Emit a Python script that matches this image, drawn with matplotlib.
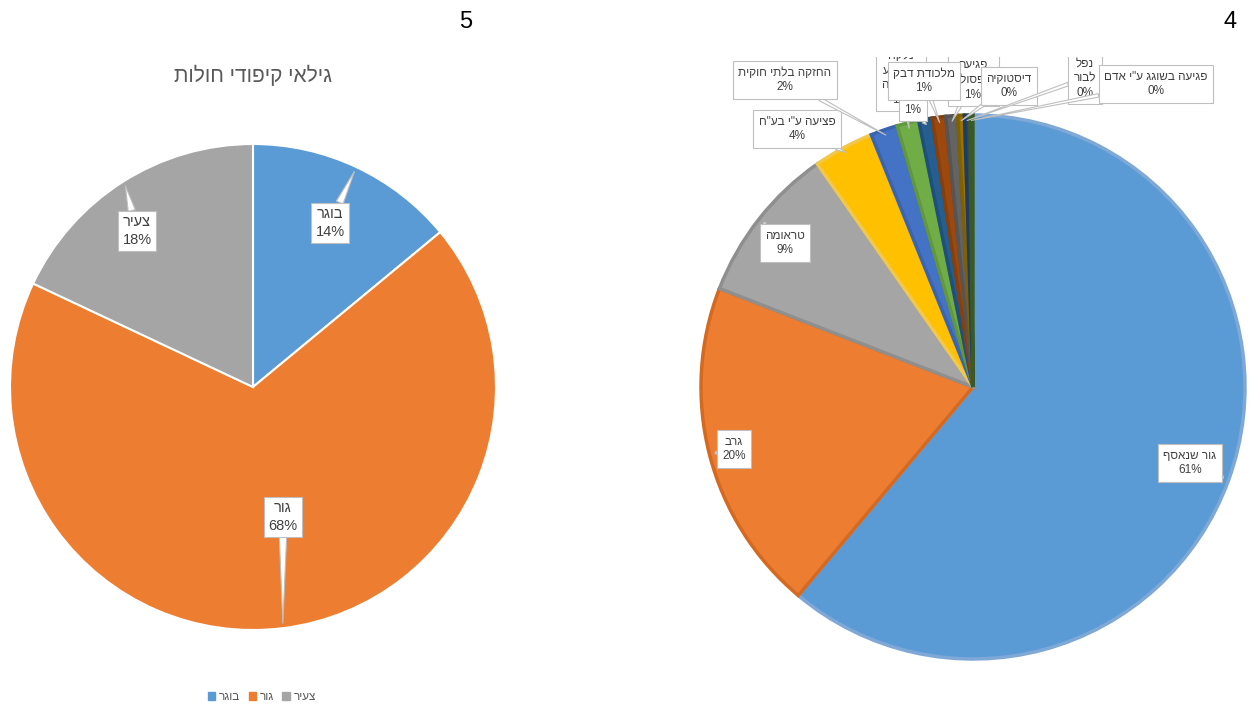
import numpy as np
import matplotlib
matplotlib.use("Agg")
import matplotlib.pyplot as plt
from matplotlib.patches import Patch

plt.rcParams['font.family'] = ['Liberation Sans', 'DejaVu Sans']

# --- data -------------------------------------------------------------
age_labels = ['בוגר', 'גור', 'צעיר']
age_values = [14, 68, 18]
age_colors = ['#5B9BD5', '#ED7D31', '#A5A5A5']

cause_labels = ['גור שנאסף', 'גרב', 'טראומה', 'פציעה ע"י בע"ח', 'החזקה בלתי חוקית',
                'נלקח\nמהטבע\nבסביבה', '', 'מלכודת דבק', 'פגיעה\nמפסולת',
                'דיסטוקיה', 'נפל\nלבור', 'פגיעה בשוגג ע"י אדם']
cause_values = [61.1, 19.8, 9.4, 3.6, 1.6, 1.3, 0.8, 0.8, 0.7, 0.4, 0.3, 0.2]
cause_colors = ['#5B9BD5', '#ED7D31', '#A5A5A5', '#FFC000', '#4472C4', '#70AD47',
                '#255E91', '#9E480E', '#636363', '#997300', '#264478', '#43682B']

# label box centres (pixels in the figure) -- layout only
age_box_px = [(330, 223), (283, 517), (137, 231)]
cause_box_px = [(1190, 463), (734, 449), (785, 243), (797, 129), (785, 80),
                (901, 78), (913, 110), (924, 81), (973, 80),
                (1009, 86), (1085, 78), (1156, 84)]
# drawing order of the crowded labels at the top (later = on top)
cause_order = [0, 1, 2, 3, 4, 5, 8, 6, 7, 9, 10, 11]

W, H = 1249, 707


def rtl(s):
    return '\n'.join(line[::-1] for line in s.split('\n'))


def pct(v, total):
    return f"{int(v / total * 100 + 0.5)}%"


def pie_axes(fig, x0, y0, w, h, cx, cy, r):
    ax = fig.add_axes([x0 / W, 1 - (y0 + h) / H, w / W, h / H])
    return ax, (x0, y0, w, h, cx, cy, r)


def set_limits(ax, geo):
    x0, y0, w, h, cx, cy, r = geo
    ax.set_xlim((x0 - cx) / r, (x0 + w - cx) / r)
    ax.set_ylim((cy - (y0 + h)) / r, (cy - y0) / r)
    ax.set_aspect('auto')
    ax.axis('off')


def to_data(geo, px, py):
    x0, y0, w, h, cx, cy, r = geo
    return (px - cx) / r, (cy - py) / r


def callouts(ax, geo, wedges, texts, boxes, order, fs, tail, pad, clip):
    for i in order:
        wd = wedges[i]
        ang = np.deg2rad((wd.theta1 + wd.theta2) / 2)
        tip = (0.98 * np.cos(ang), 0.98 * np.sin(ang))
        bx, by = to_data(geo, *boxes[i])
        ax.annotate(texts[i], xy=tip, xytext=(bx, by), ha='center', va='center',
                    fontsize=fs, color='#404040', linespacing=1.3,
                    bbox=dict(boxstyle=f'square,pad={pad}', fc='white', ec='#bfbfbf', lw=0.8),
                    arrowprops=dict(arrowstyle=f'wedge,tail_width={tail}', fc='white',
                                    ec='#bfbfbf', lw=0.8, shrinkA=0, shrinkB=0),
                    annotation_clip=False, clip_on=clip)


fig = plt.figure(figsize=(W / 100, H / 100), dpi=100)

# --- left pie ---------------------------------------------------------
axl, geol = pie_axes(fig, 0, 0, 510, 707, 253, 387, 243)
wl, _ = axl.pie(age_values, colors=age_colors, startangle=90, counterclock=False,
                wedgeprops=dict(edgecolor='white', linewidth=1.5))
set_limits(axl, geol)
tl = [rtl(l) + '\n' + pct(v, sum(age_values)) for l, v in zip(age_labels, age_values)]
callouts(axl, geol, wl, tl, age_box_px, range(3), 10.5, 0.5, 0.3, False)

fig.text(253 / W, 1 - 75 / H, rtl('גילאי קיפודי חולות'), ha='center', va='center',
         fontsize=15, color='#595959')
handles = [Patch(color=c) for c in age_colors]
fig.legend(handles, [rtl(l) for l in age_labels], loc='center',
           bbox_to_anchor=(262 / W, 1 - 697 / H), ncol=3, frameon=False, fontsize=8.5,
           handlelength=0.6, handleheight=0.6, handletextpad=0.35, columnspacing=0.7,
           labelcolor='#595959')

# --- right pie --------------------------------------------------------
axr, geor = pie_axes(fig, 505, 57, 744, 650, 973, 387, 272)
edge = ['#7FA8D6', '#D46A22', '#8F8F8F', '#F0C850', '#3B64B0', '#62983D',
        '#204F7A', '#86400D', '#555555', '#806000', '#203A66', '#3A5A25']
wr, _ = axr.pie(cause_values, colors=cause_colors, startangle=90, counterclock=False,
                wedgeprops=dict(linewidth=2.5))
for w_, e in zip(wr, edge):
    w_.set_edgecolor(e)
set_limits(axr, geor)
tr = []
for l, v in zip(cause_labels, cause_values):
    p = pct(v, sum(cause_values))
    tr.append(rtl(l) + '\n' + p if l else p)
callouts(axr, geor, wr, tr, cause_box_px, cause_order, 8.5, 0.3, 0.45, True)

fig.text(466 / W, 1 - 22 / H, '5', ha='center', va='center', fontsize=17, color='black')
fig.text(1230 / W, 1 - 22 / H, '4', ha='center', va='center', fontsize=17, color='black')

fig.savefig('out.png', dpi=100, facecolor='white')
